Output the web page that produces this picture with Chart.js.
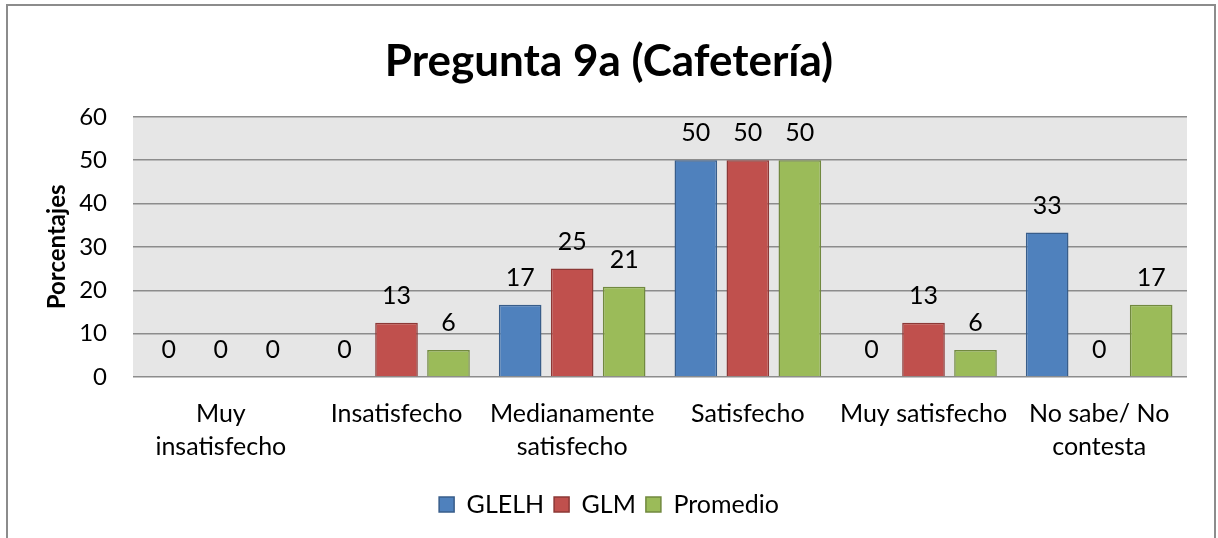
<!DOCTYPE html>
<html>
<head>
<meta charset="utf-8">
<script src="https://cdn.jsdelivr.net/npm/chart.js@4.4.1/dist/chart.umd.min.js"></script>
<style>
  html, body { margin: 0; padding: 0; background: #ffffff; }
  #wrap { width: 1218px; height: 538px; position: relative; }
</style>
</head>
<body>
<div id="wrap"><canvas id="chart" width="1218" height="538"></canvas></div>
<script>
// Survey answers, percent per group
var categories = [
    ["Muy", "insatisfecho"],
    "Insatisfecho",
    ["Medianamente", "satisfecho"],
    "Satisfecho",
    "Muy satisfecho",
    ["No sabe/ No", "contesta"]
];
var glelh = [0, 0, 16.67, 50, 0, 33.33];
var glm = [0, 12.5, 25, 50, 12.5, 0];
var promedio = [0, 6.25, 20.83, 50, 6.25, 16.67];
var yTicks = [0, 10, 20, 30, 40, 50, 60];

var FONT = "Lato, 'Open Sans', sans-serif";

// grey plot area behind the bars
var plotBackground = {
    id: "plotBackground",
    beforeDraw: function (chart) {
        var a = chart.chartArea, ctx = chart.ctx;
        ctx.save();
        ctx.fillStyle = "#e6e6e6";
        ctx.fillRect(a.left, a.top, a.right - a.left, a.bottom - a.top);
        ctx.restore();
    }
};

// rounded value above each bar
var valueLabels = {
    id: "valueLabels",
    afterDatasetsDraw: function (chart) {
        var ctx = chart.ctx;
        ctx.save();
        ctx.font = "25px " + FONT;
        ctx.fillStyle = "#000000";
        ctx.textAlign = "center";
        ctx.textBaseline = "middle";
        chart.data.datasets.forEach(function (ds, i) {
            chart.getDatasetMeta(i).data.forEach(function (bar, j) {
                ctx.fillText(String(Math.round(ds.data[j])), bar.x, bar.y - 27);
            });
        });
        ctx.restore();
    }
};

// frame around the whole chart (bottom edge is cut off in the original)
var outerFrame = {
    id: "outerFrame",
    afterDraw: function (chart) {
        var ctx = chart.ctx;
        ctx.save();
        ctx.strokeStyle = "#8c8c8c";
        ctx.lineWidth = 2;
        ctx.beginPath();
        ctx.moveTo(7, 538);
        ctx.lineTo(7, 5);
        ctx.lineTo(1215, 5);
        ctx.lineTo(1215, 538);
        ctx.stroke();
        ctx.restore();
    }
};

new Chart(document.getElementById("chart"), {
    type: "bar",
    data: {
        labels: categories,
        datasets: [
            { label: "GLELH", data: glelh, backgroundColor: "#4f81bd", borderColor: "#385d8a", borderWidth: 1.5 },
            { label: "GLM", data: glm, backgroundColor: "#c0504d", borderColor: "#8c3836", borderWidth: 1.5 },
            { label: "Promedio", data: promedio, backgroundColor: "#9bbb59", borderColor: "#71893f", borderWidth: 1.5 }
        ]
    },
    options: {
        responsive: false,
        animation: false,
        devicePixelRatio: 1,
        categoryPercentage: 0.888,
        barPercentage: 0.82,
        layout: { padding: { top: 0, left: 0, right: 0, bottom: 11 } },
        plugins: {
            title: {
                display: true,
                text: "Pregunta 9a (Cafetería)",
                color: "#000000",
                font: { family: FONT, size: 44, weight: "bold", lineHeight: 1.2 },
                padding: { top: 35, bottom: 29 }
            },
            legend: {
                position: "bottom",
                labels: {
                    color: "#000000",
                    font: { family: FONT, size: 25 },
                    boxWidth: 15,
                    boxHeight: 15,
                    padding: 10
                }
            },
            tooltip: { enabled: false }
        },
        scales: {
            x: {
                grid: { display: false },
                border: { display: false },
                ticks: {
                    color: "#000000",
                    font: { family: FONT, size: 25, lineHeight: 1.33 },
                    padding: 12,
                    maxRotation: 0,
                    autoSkip: false
                },
                afterFit: function (scale) { scale.height = 105; }
            },
            y: {
                min: 0,
                max: 60,
                afterBuildTicks: function (scale) {
                    scale.ticks = yTicks.map(function (v) { return { value: v }; });
                },
                grid: { color: "#8c8c8c", lineWidth: 1.5, drawTicks: false },
                border: { display: false },
                ticks: {
                    color: "#000000",
                    font: { family: FONT, size: 24 },
                    padding: 26
                },
                title: {
                    display: true,
                    text: "Porcentajes",
                    color: "#000000",
                    font: { family: FONT, size: 24, weight: "bold", lineHeight: 1.2 },
                    padding: { top: 43, bottom: 0 }
                },
                afterFit: function (scale) { scale.width = 133; }
            },
            // empty right-hand margin, keeps title and legend centred on the whole chart
            yRight: {
                position: "right",
                min: 0,
                max: 60,
                grid: { drawOnChartArea: false, drawTicks: false },
                border: { display: false },
                ticks: { display: false },
                afterFit: function (scale) { scale.width = 31; }
            }
        }
    },
    plugins: [plotBackground, valueLabels, outerFrame]
});
</script>
</body>
</html>
